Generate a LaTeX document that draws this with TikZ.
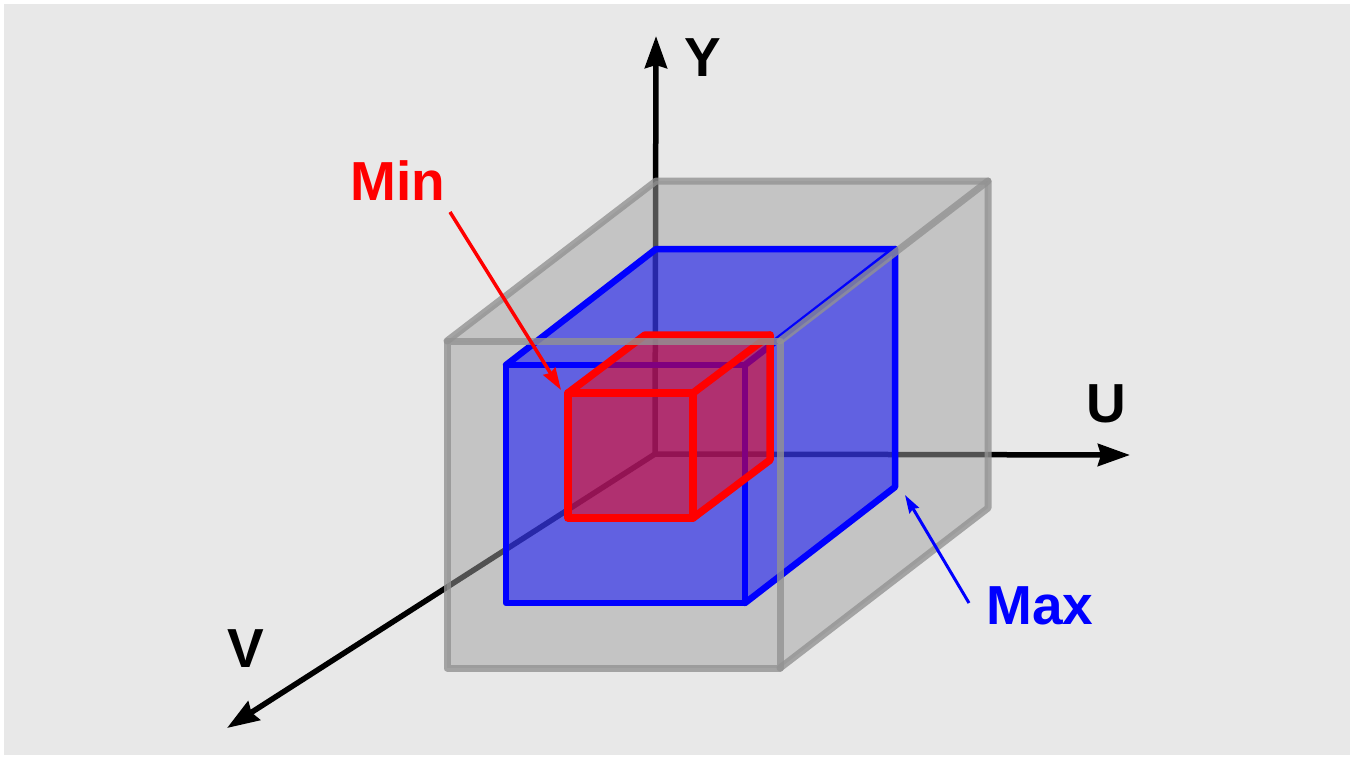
\documentclass[tikz,border=0pt]{standalone}
\usepackage{fontspec}
\setmainfont{Liberation Sans}
\usetikzlibrary{arrows.meta}
\definecolor{bg}{HTML}{E8E8E8}
\definecolor{grayfill}{HTML}{A2A2A2}
\definecolor{grayedge}{HTML}{929292}
\definecolor{pureblue}{HTML}{0000FF}
\definecolor{purered}{HTML}{FF0000}
\begin{document}
\begin{tikzpicture}[x=1pt,y=-1pt,
  axisline/.style={line width=5.5pt,draw=black,-{Stealth[length=32pt,width=22pt,inset=3pt]}},
  lbl/.style={inner sep=0pt,font=\fontsize{55}{55}\selectfont\bfseries},
  grayface/.style={fill=grayfill,fill opacity=0.5},
  blueface/.style={fill=pureblue,fill opacity=0.5},
  redface/.style={fill=purered,fill opacity=0.5},
  grayedges/.style={draw=grayedge,draw opacity=0.8,line width=7pt,line join=round,line cap=round},
  blueedges/.style={draw=pureblue,line width=6.5pt,line join=round,line cap=round},
  rededges/.style={draw=purered,line width=7.5pt,line join=round,line cap=round},
  minptr/.style={draw=purered,line width=3.5pt,-{Stealth[length=22pt,width=14pt,inset=2pt]}},
  maxptr/.style={draw=pureblue,line width=3pt,-{Stealth[length=18pt,width=11pt,inset=2pt]}}
]
\useasboundingbox (0,0) rectangle (1358,756);
\fill[white] (0,0) rectangle (1358,756);
\fill[bg] (4,4) rectangle (1350,755);

% axes
\coordinate (O) at (655,454);
\coordinate (Ytip) at (656,36);
\coordinate (Utip) at (1130,455);
\coordinate (Vtip) at (227,728);
\draw[axisline] (O) -- (Ytip);
\draw[axisline] (O) -- (Utip);
\draw[axisline] (O) -- (Vtip);

% gray box corners
\coordinate (gFTL) at (447,341); \coordinate (gFTR) at (780,341);
\coordinate (gFBR) at (780,668); \coordinate (gFBL) at (447,668);
\coordinate (gBTL) at (656,181); \coordinate (gBTR) at (988,181);
\coordinate (gBBR) at (988,508);
% blue box corners
\coordinate (bFTL) at (506,365); \coordinate (bFTR) at (745,365);
\coordinate (bFBR) at (745,603); \coordinate (bFBL) at (506,603);
\coordinate (bBTL) at (656,249); \coordinate (bBTR) at (895,249);
\coordinate (bBBR) at (895,487);
% red box corners
\coordinate (rFTL) at (568,393); \coordinate (rFTR) at (693,393);
\coordinate (rFBR) at (693,518); \coordinate (rFBL) at (568,518);
\coordinate (rBTL) at (645,335); \coordinate (rBTR) at (770,335);
\coordinate (rBBR) at (770,460);

% gray faces
\path[grayface] (gFTL) -- (gFTR) -- (gFBR) -- (gFBL) -- cycle;
\path[grayface] (gFTL) -- (gBTL) -- (gBTR) -- (gFTR) -- cycle;
\path[grayface] (gFTR) -- (gBTR) -- (gBBR) -- (gFBR) -- cycle;

% blue faces and edges
\path[blueface] (bFTL) -- (bFTR) -- (bFBR) -- (bFBL) -- cycle;
\path[blueface] (bFTL) -- (bBTL) -- (bBTR) -- (bFTR) -- cycle;
\path[blueface] (bFTR) -- (bBTR) -- (bBBR) -- (bFBR) -- cycle;
\draw[blueedges] (bFTL) -- (bFTR) -- (bFBR) -- (bFBL) -- cycle;
\draw[blueedges] (bFTL) -- (bBTL) -- (bBTR) -- (bBBR) -- (bFBR);
\draw[blueedges] (bFTR) -- (bBTR);

% red faces and edges
\path[redface] (rFTL) -- (rFTR) -- (rFBR) -- (rFBL) -- cycle;
\path[redface] (rFTL) -- (rBTL) -- (rBTR) -- (rFTR) -- cycle;
\path[redface] (rFTR) -- (rBTR) -- (rBBR) -- (rFBR) -- cycle;
\draw[rededges] (rFTL) -- (rFTR) -- (rFBR) -- (rFBL) -- cycle;
\draw[rededges] (rFTL) -- (rBTL) -- (rBTR) -- (rBBR) -- (rFBR);
\draw[rededges] (rFTR) -- (rBTR);

% gray edges on top
\draw[grayedges] (gFTL) -- (gFTR) -- (gFBR) -- (gFBL) -- cycle;
\draw[grayedges] (gFTL) -- (gBTL) -- (gBTR) -- (gBBR) -- (gFBR);
\draw[grayedges] (gFTR) -- (gBTR);

% labels
\node[lbl] (ylabel) at (703,58) {Y};
\node[lbl] (ulabel) at (1106,404) {U};
\node[lbl] (vlabel) at (246,649) {V};
\node[lbl,text=purered] (minlabel) at (398,181) {Min};
\node[lbl,text=pureblue] (maxlabel) at (1040,606) {Max};

% pointers
\coordinate (minstart) at (450,212);
\coordinate (mintip) at (561,390);
\coordinate (maxstart) at (969,603);
\coordinate (maxtip) at (905,495);
\draw[minptr] (minstart) -- (mintip);
\draw[maxptr] (maxstart) -- (maxtip);
\end{tikzpicture}
\end{document}
